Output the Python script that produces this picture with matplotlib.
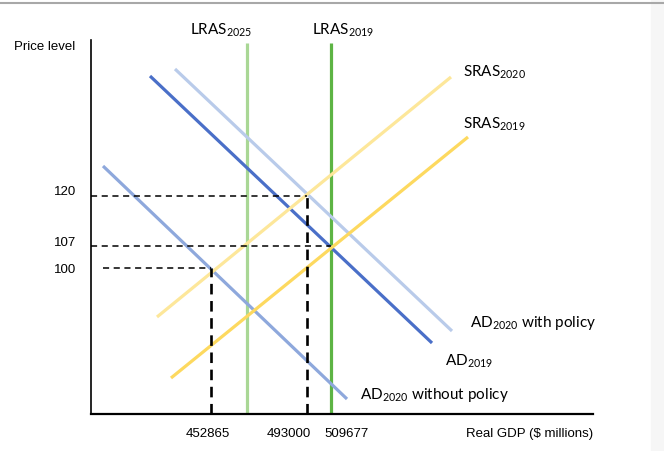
import matplotlib.pyplot as plt
from matplotlib.patches import Rectangle

plt.rcParams['mathtext.fontset'] = 'custom'
plt.rcParams['mathtext.rm'] = 'Lato'
plt.rcParams['mathtext.it'] = 'Lato'

# diagram units: origin at the axes corner, schematic (not to scale)
price_labels = ["120", "107", "100"]
price_pos = [218, 168, 146]
price_label_dy = [4, 3, -2]
gdp_labels = ["452865", "493000", "509677"]
gdp_pos = [120, 216, 240]
gdp_label_x = [117, 198, 256]

lras_names = ["LRAS$_{2025}$", "LRAS$_{2019}$"]
lras_x = [156, 240]
lras_top = 371
lras_colors = ["#a9d795", "#5db444"]

# curves: (x0, y0, x1, y1)
curve_names = ["AD$_{2019}$", "AD$_{2020}$ with policy", "AD$_{2020}$ without policy",
               "SRAS$_{2020}$", "SRAS$_{2019}$"]
curve_ends = [(59, 338, 341, 71), (84, 345, 361, 83), (12, 248, 256, 15),
              (66, 97, 360, 337), (80, 36, 377, 277)]
curve_colors = ["#4a6fc8", "#b9cbea", "#8ea8dc", "#fde79a", "#fdd95f"]
label_pos = [(354, 53), (379, 91), (269, 19), (372, 342), (372, 290)]

W, H = 664, 451
fig = plt.figure(figsize=(W / 100, H / 100), dpi=100)
fig.patches.append(Rectangle((651 / W, 0), 13 / W, 1, transform=fig.transFigure,
                             color="#f6f6f6", zorder=0))
fig.add_artist(plt.Line2D([0, 1], [1 - 2.5 / H, 1 - 2.5 / H], color="#a8a8a8", lw=1.5))

ax = fig.add_axes([91 / W, 37 / H, 502 / W, 374 / H])
ax.set_xlim(0, 502)
ax.set_ylim(0, 374)
ax.patch.set_alpha(0)
for s in ["top", "right"]:
    ax.spines[s].set_visible(False)
ax.spines["left"].set_linewidth(1.2)
ax.spines["bottom"].set_linewidth(1.6)
ax.set_xticks([])
ax.set_yticks([])

for x, c in zip(lras_x, lras_colors):
    ax.plot([x, x], [0, lras_top], color=c, lw=2.3, solid_capstyle="butt")

for (x0, y0, x1, y1), c in zip(curve_ends, curve_colors):
    ax.plot([x0, x1], [y0, y1], color=c, lw=2.3, solid_capstyle="butt")

# dashed guides
ax.plot([0, gdp_pos[1]], [price_pos[0], price_pos[0]], "k--", lw=1.1, dashes=(4, 3))
ax.plot([0, gdp_pos[2]], [price_pos[1], price_pos[1]], "k--", lw=1.1, dashes=(4, 3))
ax.plot([12, gdp_pos[0]], [price_pos[2], price_pos[2]], "k--", lw=1.1, dashes=(4, 3))
ax.plot([gdp_pos[0], gdp_pos[0]], [0, price_pos[2]], "k--", lw=1.9, dashes=(4, 2.5))
ax.plot([gdp_pos[1], gdp_pos[1]], [0, price_pos[0]], "k--", lw=1.9, dashes=(4, 2.5))

lab = dict(fontsize=11, family="Lato", color="black")
for name, x in zip(lras_names, lras_x):
    dx = -26 if x == lras_x[0] else 12
    ax.text(x + dx, 384, name, ha="center", va="center", clip_on=False, **lab)
for name, (x, y) in zip(curve_names, label_pos):
    ax.text(x, y, name, ha="left", va="center", clip_on=False, **lab)

tick = dict(fontsize=9.5, family="Liberation Sans", color="black")
for t, y, dy in zip(price_labels, price_pos, price_label_dy):
    ax.text(-15, y + dy, t, ha="right", va="center", clip_on=False, **tick)
for t, x in zip(gdp_labels, gdp_label_x):
    ax.text(x, -20, t, ha="center", va="center", clip_on=False, **tick)
ax.text(-46, 367, "Price level", ha="center", va="center", clip_on=False, **tick)
ax.text(502, -20, "Real GDP ($ millions)", ha="right", va="center", clip_on=False, **tick)

fig.savefig("out.png", dpi=100)
